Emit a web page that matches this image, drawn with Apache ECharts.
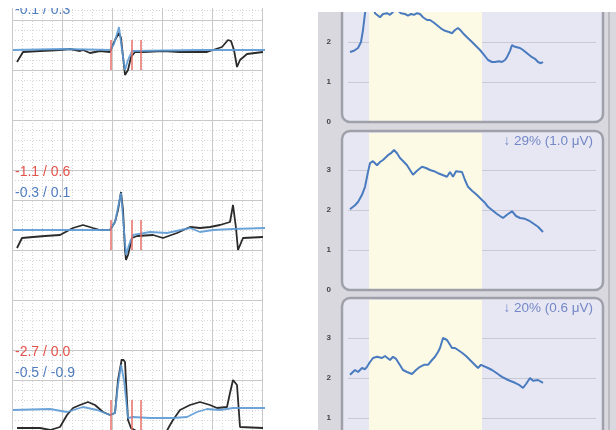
<!DOCTYPE html>
<html><head><meta charset="utf-8">
<script src="https://cdn.jsdelivr.net/npm/echarts@6/dist/echarts.min.js"></script>
<style>html,body{margin:0;padding:0;background:#fff}#c{width:616px;height:430px}</style>
</head><body><div id="c"></div><script>
// ---------- DATA ----------
// ECG leads: [time ms, amplitude mV]
const lead1Black = [[16,-0.12],[40,-0.02],[108,-0.01],[188,0],[228,0.01],[268,-0.01],[280,0],[308,-0.03],[348,-0.01],[388,-0.02],[408,0.10],[424,0.17],[432,0.12],[448,-0.25],[460,-0.20],[472,-0.07],[488,-0.02],[520,-0.02],[600,-0.01],[668,-0.02],[776,-0.02],[800,0.0],[836,0.03],[860,0.10],[872,0.09],[884,0.0],[896,-0.17],[908,-0.10],[936,-0.04],[1000,-0.02]];
const lead1Blue = [[0,0.0],[200,0.01],[388,0.0],[404,0.06],[424,0.23],[436,0.0],[448,-0.20],[460,-0.10],[476,-0.01],[748,0.0],[1008,0.0]];
const lead2Black = [[16,-0.18],[36,-0.08],[80,-0.07],[128,-0.06],[188,-0.05],[240,0.02],[280,0.05],[320,0.02],[348,0.0],[388,0.0],[408,0.08],[420,0.2],[432,0.38],[436,0.40],[440,0.2],[448,-0.2],[452,-0.30],[460,-0.25],[476,-0.08],[496,-0.06],[560,-0.05],[600,-0.08],[656,-0.03],[708,0.03],[748,0.02],[788,0.03],[828,0.05],[868,0.08],[880,0.25],[892,0.02],[900,-0.20],[920,-0.08],[1000,-0.07]];
const lead2Blue = [[0,0.0],[348,0.0],[388,0.0],[408,0.08],[432,0.37],[444,0.0],[452,-0.25],[464,-0.15],[480,-0.05],[548,-0.02],[616,-0.03],[708,0.02],[748,-0.02],[800,0.0],[880,0.01],[1008,0.02]];
const lead3Black = [[16,-0.18],[108,-0.18],[148,-0.20],[188,-0.17],[216,-0.05],[240,0.02],[268,0.05],[300,0.08],[328,0.05],[360,-0.02],[388,-0.05],[408,-0.03],[420,0.30],[436,0.52],[448,0.48],[460,-0.10],[472,-0.18],[500,-0.22],[540,-0.30],[600,-0.28],[628,-0.15],[640,-0.10],[668,0.0],[708,0.05],[748,0.08],[788,0.05],[816,0.02],[856,0.03],[868,0.17],[880,0.30],[896,0.25],[908,-0.17],[1000,-0.18]];
const lead3Blue = [[0,0.0],[148,0.01],[216,-0.02],[280,0.03],[336,0.0],[388,-0.05],[408,-0.03],[420,0.25],[432,0.45],[444,0.30],[460,-0.08],[480,-0.07],[548,-0.08],[640,-0.08],[696,-0.07],[736,-0.02],[776,0.01],[828,0.0],[880,0.02],[1008,0.02]];
const markerTimes = [392, 476, 512];
const markerRange = [0.1, -0.2];
const leadLabelsRed = ['', '-1.1 / 0.6', '-2.7 / 0.0'];
const leadLabelsBlue = ['-0.1 / 0.3', '-0.3 / 0.1', '-0.5 / -0.9'];

// Trend panels: [time, µV]
const trendBand = [24, 137];
const trend1 = [[5,1.75],[9,1.78],[13,1.85],[16,2.0],[18,2.3],[20,2.72],[22,2.95],[25,3.05],[28,3.0],[30,2.72],[32,2.68],[35,2.62],[38,2.7],[40,2.65],[42,2.72],[45,2.68],[48,2.75],[50,2.85],[53,2.78],[56,2.72],[60,2.7],[63,2.66],[66,2.7],[69,2.68],[72,2.72],[75,2.7],[78,2.62],[82,2.55],[85,2.55],[89,2.48],[93,2.4],[97,2.32],[100,2.28],[104,2.25],[107,2.22],[110,2.3],[113,2.35],[116,2.28],[118,2.22],[122,2.12],[127,2.0],[131,1.9],[135,1.8],[139,1.68],[143,1.55],[147,1.5],[150,1.5],[154,1.52],[157,1.5],[160,1.55],[162,1.62],[165,1.78],[167,1.92],[170,1.88],[172,1.85],[175,1.85],[178,1.8],[182,1.72],[187,1.62],[190,1.58],[193,1.5],[196,1.47],[198,1.5]];
const trend2 = [[5,2.02],[10,2.12],[13,2.2],[17,2.38],[20,2.58],[23,2.95],[25,3.17],[28,3.22],[32,3.12],[35,3.2],[38,3.25],[43,3.37],[46,3.42],[49,3.5],[52,3.42],[55,3.3],[59,3.2],[62,3.12],[65,3.0],[68,2.88],[72,2.98],[77,3.08],[81,3.05],[85,3.0],[89,2.97],[93,2.92],[97,2.88],[102,2.83],[105,2.95],[108,2.83],[111,2.97],[113,3.0],[117,2.95],[120,2.75],[123,2.58],[127,2.48],[130,2.42],[133,2.35],[137,2.25],[140,2.18],[143,2.08],[147,2.0],[152,1.9],[155,1.85],[158,1.8],[162,1.88],[167,1.97],[171,1.85],[175,1.8],[180,1.78],[185,1.72],[189,1.65],[193,1.58],[198,1.45]];
const trend3 = [[5,2.08],[10,2.2],[13,2.15],[17,2.25],[20,2.22],[22,2.28],[25,2.4],[28,2.5],[32,2.53],[37,2.5],[40,2.55],[42,2.53],[45,2.45],[48,2.53],[51,2.48],[53,2.4],[56,2.28],[58,2.2],[62,2.15],[67,2.1],[71,2.2],[75,2.28],[79,2.33],[83,2.33],[87,2.45],[90,2.53],[93,2.65],[95,2.75],[98,3.0],[102,2.95],[105,2.83],[107,2.75],[110,2.75],[113,2.7],[117,2.63],[121,2.55],[125,2.45],[129,2.35],[133,2.25],[136,2.33],[138,2.33],[143,2.25],[147,2.2],[150,2.15],[154,2.08],[157,2.03],[163,1.95],[170,1.88],[174,1.83],[178,1.75],[181,1.85],[185,2.0],[188,1.93],[190,1.93],[193,1.95],[195,1.95],[198,1.88]];
const trendNotes = ['', '\u2193 29% (1.0 \u03bcV)', '\u2193 20% (0.6 \u03bcV)'];

// ---------- LAYOUT ----------
const FONT = 'Liberation Sans, Arial, sans-serif';
const ecgLeft = 12;
const paperBlockTops = [-160, 20, 200, 380];
const leadTops = [0, 180, 360];
const leadBaselines = [50, 230, 410];
const panelX = 342, panelW = 261;
const panelBoxes = [[-20, 122], [131, 290], [298, 480]];
const panelGridTops = [12, 133, 300];
const panelZeroY = [122, 290, 458];
const pxPerUnit = 40;

const grids = [], xAxes = [], yAxes = [], series = [], graphics = [];
const hidden = {axisLine:{show:false}, axisTick:{show:false}, axisLabel:{show:false}};
const majorLine = {color:'#c8c8c8', width:1};
const minorLine = {color:'#d6d6d6', width:1, type:[1,2]};

// vertical paper grid
grids.push({left:ecgLeft, top:0, width:250, height:430, outerBoundsMode:'none'});
xAxes.push(Object.assign({type:'value', gridIndex:0, min:0, max:250, interval:50,
  splitLine:{show:true, lineStyle:majorLine}, minorTick:{show:false, splitNumber:5},
  minorSplitLine:{show:true, lineStyle:minorLine}}, hidden));
yAxes.push({type:'value', gridIndex:0, min:0, max:1, show:false});
series.push({type:'line', xAxisIndex:0, yAxisIndex:0, data:[], silent:true});

// horizontal paper blocks
paperBlockTops.forEach(t => {
  const gi = grids.length;
  grids.push({left:ecgLeft, top:t, width:250, height:200, outerBoundsMode:'none'});
  xAxes.push({type:'value', gridIndex:gi, min:0, max:1, show:false});
  yAxes.push(Object.assign({type:'value', gridIndex:gi, inverse:true, min:0, max:200, interval:50,
    splitLine:{show:true, showMaxLine:false, lineStyle:majorLine}, minorTick:{show:false, splitNumber:5},
    minorSplitLine:{show:true, lineStyle:minorLine}}, hidden));
  series.push({type:'line', xAxisIndex:gi, yAxisIndex:gi, data:[], silent:true});
});

// ECG leads
const leads = [[lead1Black, lead1Blue], [lead2Black, lead2Blue], [lead3Black, lead3Blue]];
leads.forEach((pair, k) => {
  const gi = grids.length;
  grids.push({left:ecgLeft + 1, top:leadTops[k], width:252, height:180, outerBoundsMode:'none'});
  xAxes.push({type:'value', gridIndex:gi, min:0, max:1008, show:false});
  yAxes.push({type:'value', gridIndex:gi, min:-1.3, max:0.5, show:false});
  series.push({type:'line', xAxisIndex:gi, yAxisIndex:gi, data:pair[0], symbol:'none', z:3,
    lineStyle:{color:'#2b2b2b', width:1.8}, silent:true,
    markLine:{silent:true, symbol:['none','none'], label:{show:false},
      lineStyle:{color:'#e86a64', width:1.6, type:'solid', opacity:0.9},
      data: markerTimes.map(t => [{coord:[t, markerRange[0]]}, {coord:[t, markerRange[1]]}])}});
  series.push({type:'line', xAxisIndex:gi, yAxisIndex:gi, data:pair[1], symbol:'none', z:4,
    lineStyle:{color:'#5c9ad6', width:1.8, opacity:0.9}, silent:true});
  const b = leadBaselines[k];
  if (leadLabelsRed[k]) graphics.push({type:'text', x:15, y:b-58, z:20,
    style:{text:leadLabelsRed[k], fill:'#e5524b', font:'14px ' + FONT, textVerticalAlign:'middle'}});
  graphics.push({type:'text', x:15, y:(k===0 ? 10 : b-37), z:20,
    style:{text:leadLabelsBlue[k], fill:'#4f7dc0', font:'14px ' + FONT, textVerticalAlign:'middle'}});
});

// right-hand trend panels
graphics.push({type:'rect', shape:{x:318, y:0, width:298, height:430}, style:{fill:'#d8d8de'}, z:-20});
graphics.push({type:'line', shape:{x1:609, y1:0, x2:609, y2:430}, style:{stroke:'#b2b2bb', lineWidth:1.5}, z:-19});
const trends = [trend1, trend2, trend3];
trends.forEach((tr, k) => {
  const gi = grids.length;
  const top = panelGridTops[k];
  const h = panelZeroY[k] - top;
  const box = panelBoxes[k];
  graphics.push({type:'rect', shape:{x:panelX, y:box[0], width:panelW, height:box[1]-box[0], r:8},
    style:{fill:'#e7e7f4'}, z:-10});
  graphics.push({type:'rect', shape:{x:panelX, y:box[0], width:panelW, height:box[1]-box[0], r:8},
    style:{fill:'none', stroke:'#a0a0ab', lineWidth:2.5}, z:50});
  grids.push({left:348, top:top, width:248, height:h, outerBoundsMode:'none'});
  xAxes.push({type:'value', gridIndex:gi, min:3, max:251, show:false});
  yAxes.push({type:'value', gridIndex:gi, min:0, max:h / pxPerUnit, interval:1,
    axisLine:{show:false}, axisTick:{show:false},
    axisLabel:{show:true, margin:17, fontSize:8, fontWeight:'bold', color:'#444', fontFamily:FONT, showMaxLabel:false},
    splitLine:{show:true, showMinLine:false, showMaxLine:false, lineStyle:{color:'#c9c9d4', width:1}}});
  series.push({type:'line', xAxisIndex:gi, yAxisIndex:gi, data:tr, symbol:'none', z:5, silent:true,
    lineStyle:{color:'#4a7bbf', width:2},
    markArea:{silent:true, itemStyle:{color:'#fcfae5'}, data:[[{xAxis:trendBand[0]}, {xAxis:trendBand[1]}]]}});
  if (trendNotes[k]) graphics.push({type:'text', x:593, y:box[0] + 10, z:55,
    style:{text:trendNotes[k], fill:'#7488c6', font:'13.5px ' + FONT, textAlign:'right', textVerticalAlign:'middle'}});
});
// white page margins at the top
graphics.push({type:'rect', shape:{x:318, y:0, width:298, height:12}, style:{fill:'#ffffff'}, z:60});
graphics.push({type:'rect', shape:{x:0, y:0, width:318, height:8}, style:{fill:'#ffffff'}, z:60});

const chart = echarts.init(document.getElementById('c'), null, {renderer:'canvas'});
chart.setOption({
  animation:false,
  backgroundColor:'#ffffff',
  grid:grids, xAxis:xAxes, yAxis:yAxes, series:series,
  graphic:graphics
});
</script></body></html>
